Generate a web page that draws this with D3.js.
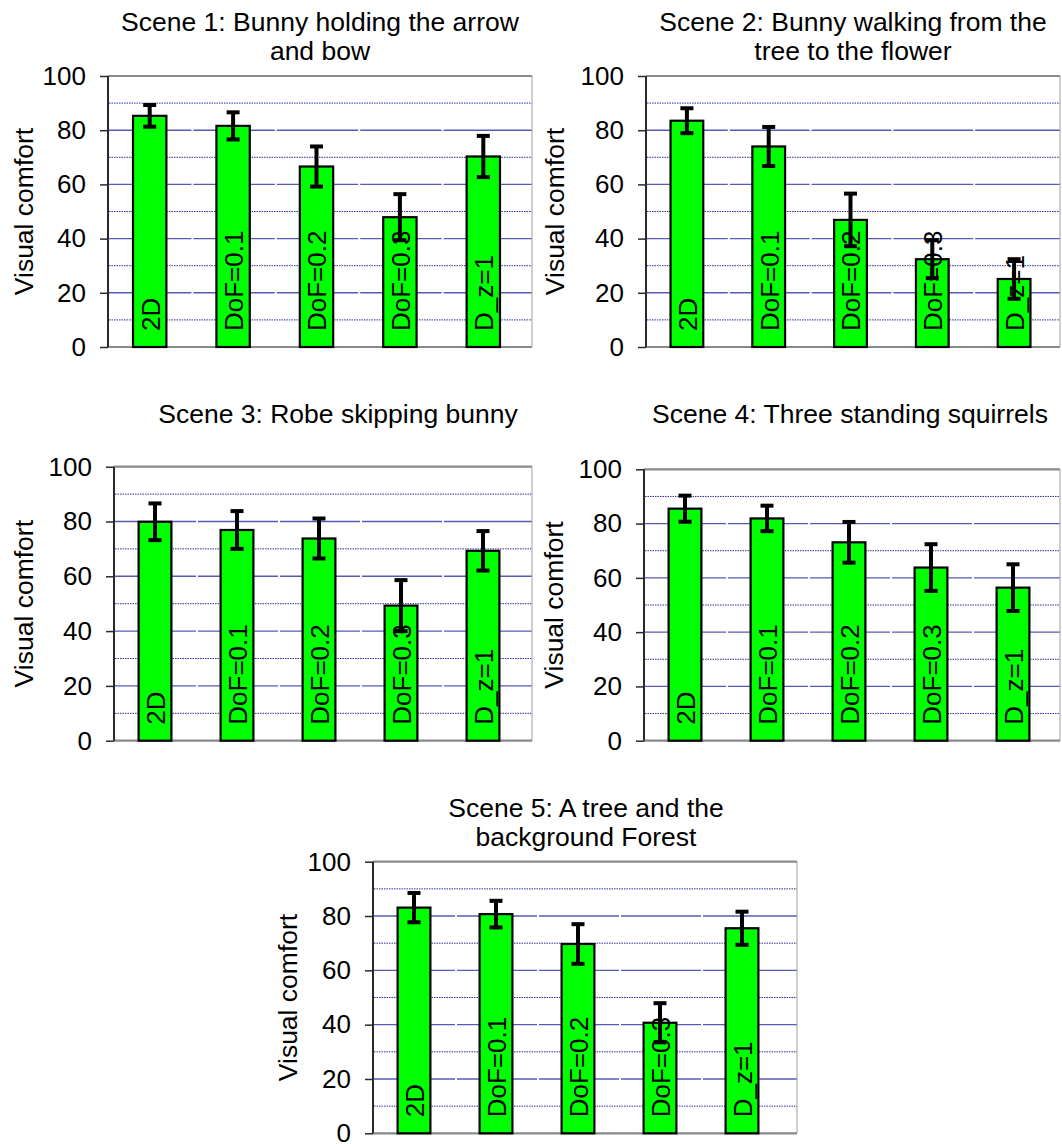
<!DOCTYPE html>
<html><head><meta charset="utf-8">
<script src="https://cdn.jsdelivr.net/npm/d3@7"></script>
<style>
body{margin:0;background:#fff;}
svg{display:block;font-family:Arial,"Liberation Sans",sans-serif;}
</style></head>
<body>
<svg id="chart" width="1062" height="1144"></svg>
<script>
const categories = ["2D", "DoF=0.1", "DoF=0.2", "DoF=0.3", "D_z=1"];
const scene1Values = [85.3, 81.6, 66.6, 47.9, 70.3];
const scene1Errors = [4.0, 5.0, 7.4, 8.5, 7.6];
const scene2Values = [83.5, 74.0, 46.9, 32.4, 25.1];
const scene2Errors = [4.6, 7.2, 9.7, 7.0, 7.3];
const scene3Values = [79.9, 76.9, 73.8, 49.3, 69.3];
const scene3Errors = [6.7, 6.9, 7.3, 9.3, 7.2];
const scene4Values = [85.5, 81.9, 73.1, 63.8, 56.4];
const scene4Errors = [4.8, 4.7, 7.5, 8.6, 8.6];
const scene5Values = [83.1, 80.7, 69.7, 40.7, 75.5];
const scene5Errors = [5.4, 4.9, 7.3, 7.2, 6.1];
const sceneTitles = [
  ["Scene 1: Bunny holding the arrow", "and bow"],
  ["Scene 2: Bunny walking from the", "tree to the flower"],
  ["Scene 3: Robe skipping bunny"],
  ["Scene 4: Three standing squirrels"],
  ["Scene 5: A tree and the", "background Forest"]
];
const yTickValues = [0, 20, 40, 60, 80, 100];
const yMinorValues = [10, 30, 50, 70, 90];
const yAxisTitle = "Visual comfort";

const seriesValues = [scene1Values, scene2Values, scene3Values, scene4Values, scene5Values];
const seriesErrors = [scene1Errors, scene2Errors, scene3Errors, scene4Errors, scene5Errors];

// layout (pixel geometry)
const layout = [
  {ax:108, top:76,    bot:347,    right:532,  bandEnd:525,  titleX:320, titleY:[31,60],   yTitleX:33},
  {ax:646, top:76,    bot:347,    right:1060, bandEnd:1055, titleX:853, titleY:[31,60],   yTitleX:564},
  {ax:114, top:466.7, bot:740.7,  right:532,  bandEnd:524,  titleX:338, titleY:[423],     yTitleX:33},
  {ax:644, top:469.3, bot:740.7,  right:1060, bandEnd:1054, titleX:850, titleY:[423],     yTitleX:563},
  {ax:373, top:861.7, bot:1133.3, right:797,  bandEnd:783,  titleX:586, titleY:[817,846], yTitleX:297}
];

const svg = d3.select("#chart");
const FS = 26;
const FT = 26.5;

layout.forEach((L, i) => {
  const g = svg.append("g");
  const values = seriesValues[i], errs = seriesErrors[i];
  const x = d3.scaleBand().domain(categories).range([L.ax, L.bandEnd]).paddingInner(0.6).paddingOuter(0.3);
  const y = d3.scaleLinear().domain([0, 100]).range([L.bot, L.top]);
  const step = x.step();

  // minor dotted gridlines
  g.selectAll("line.minor").data(yMinorValues).enter().append("line").attr("class", "minor")
    .attr("x1", L.ax + 1).attr("x2", L.right)
    .attr("y1", d => y(d)).attr("y2", d => y(d))
    .attr("stroke", "#2e2ea0").attr("stroke-width", 1).attr("stroke-dasharray", "1.5,1");
  // major gridlines with tiny gaps at category boundaries
  const segs = [];
  yTickValues.filter(v => v > 0 && v < 100).forEach(v => {
    categories.forEach((c, k) => {
      const bandStart = x(c) - x.paddingOuter() * step;
      const s = k === 0 ? L.ax + 1 : bandStart + 2;
      const e = k === categories.length - 1 ? L.right : bandStart + step;
      segs.push({v, s, e});
    });
  });
  g.selectAll("line.major").data(segs).enter().append("line").attr("class", "major")
    .attr("x1", d => d.s).attr("x2", d => d.e)
    .attr("y1", d => y(d.v)).attr("y2", d => y(d.v))
    .attr("stroke", "#5a5ab6").attr("stroke-width", 1.4);

  // frame: top, right, bottom
  g.append("line").attr("x1", L.ax).attr("x2", L.right).attr("y1", y(100)).attr("y2", y(100))
    .attr("stroke", "#8a8a8a").attr("stroke-width", 2.2);
  g.append("line").attr("x1", L.right).attr("x2", L.right).attr("y1", y(100)).attr("y2", y(0))
    .attr("stroke", "#a0a0a0").attr("stroke-width", 1);
  g.append("line").attr("x1", L.ax).attr("x2", L.right).attr("y1", y(0)).attr("y2", y(0))
    .attr("stroke", "#8a8a8a").attr("stroke-width", 2.2);

  // bars
  g.selectAll("rect.bar").data(categories).enter().append("rect").attr("class", "bar")
    .attr("x", d => x(d)).attr("width", x.bandwidth())
    .attr("y", (d, k) => y(values[k])).attr("height", (d, k) => y(0) - y(values[k]))
    .attr("fill", "#00ff00").attr("stroke", "#000").attr("stroke-width", 2.2);

  // bar labels (rotated)
  g.selectAll("text.blab").data(categories).enter().append("text").attr("class", "blab")
    .attr("transform", d => `translate(${x(d) + x.bandwidth() / 2 + 0.5},${y(0) - 16}) rotate(-90)`)
    .attr("dy", "0.36em").attr("text-anchor", "start")
    .attr("font-size", FS).attr("fill", "#000").text(d => d);

  // error bars
  const eb = g.selectAll("g.eb").data(categories).enter().append("g").attr("class", "eb");
  eb.append("line")
    .attr("x1", d => x(d) + x.bandwidth() / 2).attr("x2", d => x(d) + x.bandwidth() / 2)
    .attr("y1", (d, k) => y(values[k] + errs[k])).attr("y2", (d, k) => y(values[k] - errs[k]))
    .attr("stroke", "#000").attr("stroke-width", 4);
  [1, -1].forEach(sgn => {
    eb.append("line")
      .attr("x1", d => x(d) + x.bandwidth() / 2 - 6.5).attr("x2", d => x(d) + x.bandwidth() / 2 + 6.5)
      .attr("y1", (d, k) => y(values[k] + sgn * errs[k])).attr("y2", (d, k) => y(values[k] + sgn * errs[k]))
      .attr("stroke", "#000").attr("stroke-width", 4);
  });

  // y axis
  const axis = d3.axisLeft(y).tickValues(yTickValues).tickSize(8).tickPadding(14).tickFormat(d3.format("d"));
  const ag = g.append("g").attr("transform", `translate(${L.ax},0)`).call(axis);
  ag.select(".domain").attr("stroke", "#2a2a2a").attr("stroke-width", 2).attr("d", `M0,${y(100)}V${y(0)}`);
  ag.selectAll(".tick line").attr("stroke", "#2a2a2a").attr("stroke-width", 1.5);
  ag.selectAll(".tick text").attr("font-size", FS).attr("fill", "#000")
    .attr("font-family", "Arial, 'Liberation Sans', sans-serif");

  // y axis title
  g.append("text")
    .attr("transform", `translate(${L.yTitleX},${(y(0) + y(100)) / 2}) rotate(-90)`)
    .attr("text-anchor", "middle").attr("font-size", FT).attr("fill", "#000").text(yAxisTitle);

  // title
  g.selectAll("text.title").data(sceneTitles[i]).enter().append("text").attr("class", "title")
    .attr("x", L.titleX).attr("y", (d, k) => L.titleY[k])
    .attr("text-anchor", "middle").attr("font-size", FT).attr("fill", "#000").text(d => d);
});
</script>
</body></html>
